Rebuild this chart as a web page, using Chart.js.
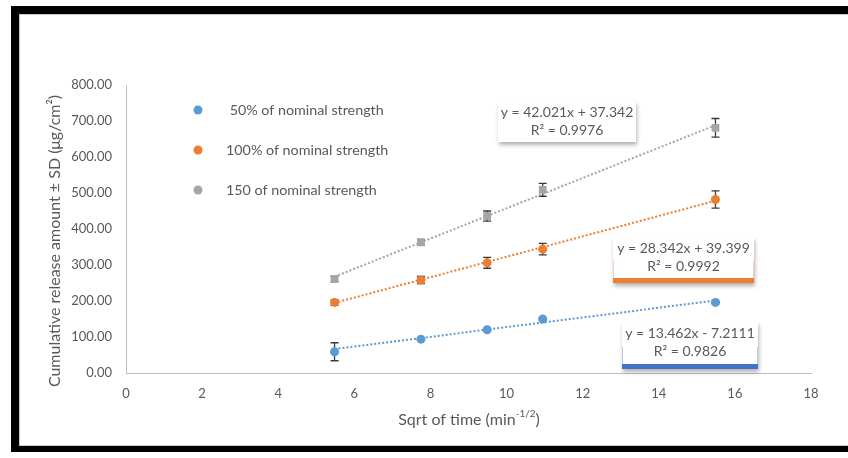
<!DOCTYPE html>
<html>
<head>
<meta charset="utf-8">
<script src="https://cdn.jsdelivr.net/npm/chart.js@4"></script>
<style>
    body { margin: 0; background: #fff; }
    #wrap { position: relative; width: 848px; height: 458px; overflow: hidden; }
    #frame {
        position: absolute; left: 11px; top: 6px; width: 900px; height: 446px;
        border-left: 8px solid #000; border-top: 8px solid #000; border-bottom: 6px solid #000;
        box-sizing: border-box; pointer-events: none;
        box-shadow: inset 1px 1px 0 #c8c8c8, inset 0 -1px 0 #c8c8c8;
    }
    canvas { position: absolute; left: 0; top: 0; }
</style>
</head>
<body>
<div id="wrap">
    <canvas id="releaseChart" width="848" height="458"></canvas>
    <div id="frame"></div>
</div>
<script>
// sqrt of sampling time (min^1/2)
var sqrtTime = [5.48, 7.75, 9.49, 10.95, 15.49];

// cumulative release (ug/cm2) and SD per strength
var release50 = [59, 94, 120, 150, 196];
var sd50 = [25, 3, 3, 3, 3];
var release100 = [196, 258, 306, 344, 482];
var sd100 = [8, 10, 15, 16, 24];
var release150 = [261, 363, 436, 509, 681];
var sd150 = [7, 8, 14, 18, 26];

var seriesNames = [" 50% of nominal strength", "100% of nominal strength", "150 of nominal strength"];
var seriesColors = ["#5B9BD5", "#ED7D31", "#A5A5A5"];

// linear trendline fits shown on the chart
var trendSlope = [13.462, 28.342, 42.021];
var trendIntercept = [-7.2111, 39.399, 37.342];
var trendR2 = [0.9826, 0.9992, 0.9976];

var yTicks = [0, 100, 200, 300, 400, 500, 600, 700, 800];

var textColor = "#595959";
var fontFamily = "Lato, 'Open Sans', sans-serif";

function toPoints(xs, ys) {
    return xs.map(function (x, i) { return {x: x, y: ys[i]}; });
}

function trendPoints(k) {
    var x0 = sqrtTime[0], x1 = sqrtTime[sqrtTime.length - 1];
    return [
        {x: x0, y: trendSlope[k] * x0 + trendIntercept[k]},
        {x: x1, y: trendSlope[k] * x1 + trendIntercept[k]}
    ];
}

var seriesValues = [release50, release100, release150];
var seriesSd = [sd50, sd100, sd150];
var markerStyles = ["circle", "circle", "rect"];
var markerSizes = [4.5, 4.5, 5.5];

var datasets = [];
// trendlines first so markers sit on top
for (var k = 0; k < 3; k++) {
    datasets.push({
        label: "trend" + k,
        data: trendPoints(k),
        showLine: true,
        borderColor: seriesColors[k],
        borderWidth: 2,
        borderDash: [2, 2],
        pointRadius: 0,
        fill: false
    });
}
for (var k = 0; k < 3; k++) {
    datasets.push({
        label: seriesNames[k],
        data: toPoints(sqrtTime, seriesValues[k]),
        showLine: false,
        backgroundColor: seriesColors[k],
        borderColor: seriesColors[k],
        pointStyle: markerStyles[k],
        pointRadius: markerSizes[k],
        pointBorderWidth: 0,
        sd: seriesSd[k]
    });
}

// error bars drawn from the SD arrays, under the markers
var errorBarPlugin = {
    id: "errorBars",
    beforeDatasetsDraw: function (chart) {
        var ctx = chart.ctx;
        var xs = chart.scales.x, ys = chart.scales.y;
        ctx.save();
        ctx.strokeStyle = "#3a3a3a";
        ctx.lineWidth = 1.3;
        chart.data.datasets.forEach(function (ds) {
            if (!ds.sd) return;
            ds.data.forEach(function (p, i) {
                var px = xs.getPixelForValue(p.x);
                var top = ys.getPixelForValue(p.y + ds.sd[i]);
                var bot = ys.getPixelForValue(p.y - ds.sd[i]);
                ctx.beginPath();
                ctx.moveTo(px, top); ctx.lineTo(px, bot);
                ctx.moveTo(px - 4, top); ctx.lineTo(px + 4, top);
                ctx.moveTo(px - 4, bot); ctx.lineTo(px + 4, bot);
                ctx.stroke();
            });
        });
        ctx.restore();
    }
};

function fmtEq(k) {
    var b = trendIntercept[k];
    return "y = " + trendSlope[k] + "x " + (b < 0 ? "- " : "+ ") + Math.abs(b);
}

// legend, equation labels and axis titles
var decorPlugin = {
    id: "decor",
    afterDraw: function (chart) {
        var ctx = chart.ctx;
        ctx.save();
        ctx.textBaseline = "middle";

        // legend inside the plot
        var legendY = [110, 150, 190];
        for (var k = 0; k < 3; k++) {
            ctx.fillStyle = seriesColors[k];
            ctx.beginPath();
            ctx.arc(198, legendY[k], 4.5, 0, Math.PI * 2);
            ctx.fill();
            ctx.fillStyle = textColor;
            ctx.font = "14.3px " + fontFamily;
            ctx.textAlign = "left";
            ctx.fillText(seriesNames[k], 226, legendY[k]);
        }

        // trendline equation boxes
        var boxes = [
            {k: 0, x: 622, y: 322, w: 136, h: 47, bar: "#4472C4"},
            {k: 1, x: 613, y: 237, w: 141, h: 46, bar: "#ED7D31"},
            {k: 2, x: 498, y: 101, w: 138, h: 41, bar: null}
        ];
        boxes.forEach(function (b) {
            ctx.save();
            ctx.shadowColor = "rgba(0,0,0,0.30)";
            ctx.shadowBlur = 4;
            ctx.shadowOffsetX = 1;
            ctx.shadowOffsetY = 3;
            ctx.fillStyle = "#fff";
            ctx.fillRect(b.x, b.y, b.w, b.h);
            ctx.restore();
            if (b.bar) {
                ctx.fillStyle = b.bar;
                ctx.fillRect(b.x, b.y + b.h - 5, b.w, 5);
                ctx.globalAlpha = 0.35;
                ctx.fillRect(b.x, b.y + b.h - 22, 1, 17);
                ctx.fillRect(b.x + b.w - 1, b.y + b.h - 22, 1, 17);
                ctx.globalAlpha = 1;
            }
            ctx.fillStyle = textColor;
            ctx.font = "14px " + fontFamily;
            ctx.textAlign = "center";
            var cx = b.x + b.w / 2;
            ctx.fillText(fmtEq(b.k), cx, b.y + 11);
            ctx.fillText("R\u00B2 = " + trendR2[b.k], cx, b.y + 29);
        });

        // x axis title with superscript
        ctx.font = "16px " + fontFamily;
        var part1 = "Sqrt of time (min";
        var sup = "-1/2";
        var part3 = ")";
        var w1 = ctx.measureText(part1).width;
        var w3 = ctx.measureText(part3).width;
        ctx.font = "10px " + fontFamily;
        var w2 = ctx.measureText(sup).width;
        var startX = 469 - (w1 + w2 + w3) / 2;
        ctx.textAlign = "left";
        ctx.fillStyle = textColor;
        ctx.font = "16px " + fontFamily;
        ctx.fillText(part1, startX, 420);
        ctx.font = "10px " + fontFamily;
        ctx.fillText(sup, startX + w1, 414);
        ctx.font = "16px " + fontFamily;
        ctx.fillText(part3, startX + w1 + w2, 420);

        // y axis title
        ctx.translate(55, 241);
        ctx.rotate(-Math.PI / 2);
        ctx.textAlign = "center";
        ctx.font = "16px " + fontFamily;
        ctx.fillText("Cumulative release amount \u00B1 SD (\u03BCg/cm\u00B2)", 0, 0);
        ctx.restore();
    }
};

var ctx = document.getElementById("releaseChart").getContext("2d");
var releaseChart = new Chart(ctx, {
    type: "scatter",
    data: {datasets: datasets},
    options: {
        responsive: false,
        animation: false,
        layout: {padding: {top: 85, right: 37, left: 0, bottom: 0}},
        plugins: {
            legend: {display: false},
            tooltip: {enabled: false}
        },
        scales: {
            x: {
                type: "linear",
                min: 0,
                max: 18,
                grid: {display: false, drawTicks: false},
                border: {display: true, color: "#bfbfbf", width: 1},
                ticks: {
                    stepSize: 2,
                    padding: 13,
                    color: textColor,
                    font: {family: fontFamily, size: 13}
                },
                afterFit: function (scale) { scale.height = 85; }
            },
            y: {
                type: "linear",
                min: 0,
                max: 800,
                grid: {display: false, drawTicks: false},
                border: {display: true, color: "#bfbfbf", width: 1},
                afterBuildTicks: function (scale) {
                    scale.ticks = yTicks.map(function (v) { return {value: v}; });
                },
                ticks: {
                    padding: 14,
                    color: textColor,
                    font: {family: fontFamily, size: 13},
                    callback: function (v) { return Number(v).toFixed(2); }
                },
                afterFit: function (scale) { scale.width = 126; }
            }
        }
    },
    plugins: [errorBarPlugin, decorPlugin]
});
</script>
</body>
</html>
